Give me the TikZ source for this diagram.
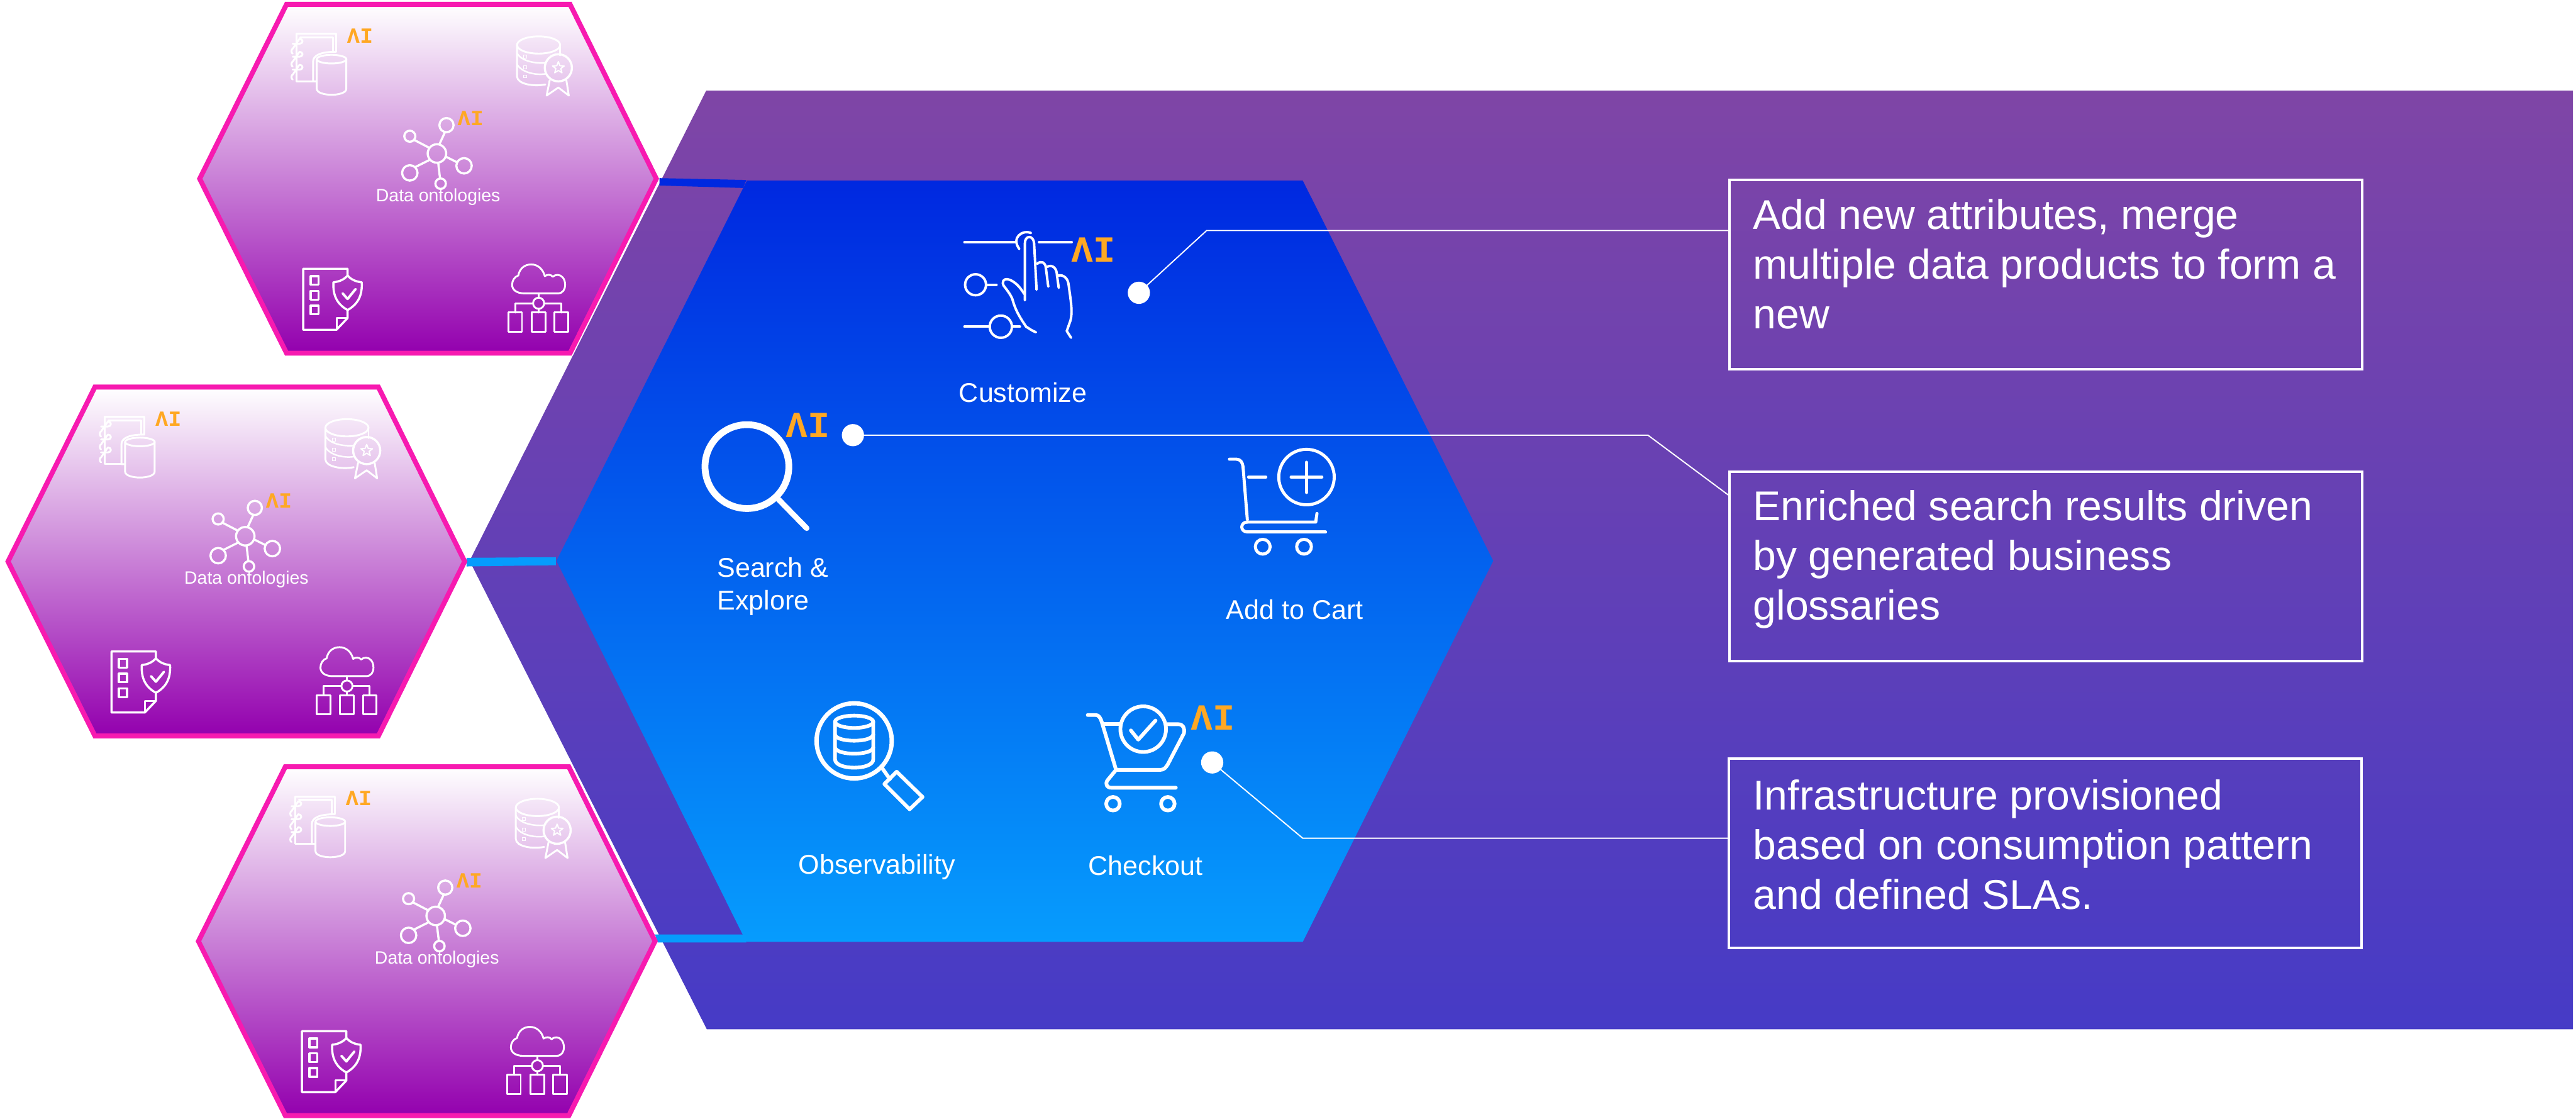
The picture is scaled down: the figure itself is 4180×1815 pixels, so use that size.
\documentclass[tikz,border=0pt]{standalone}
\usepackage{fontspec}
\setmainfont{Liberation Sans}
\newfontfamily\aimono{Liberation Mono}[BoldFont={Liberation Mono Bold}]
\usetikzlibrary{calc}
\definecolor{pinkline}{HTML}{F71AB0}
\definecolor{hexbot}{HTML}{9300AE}
\definecolor{purptop}{HTML}{7F45A6}
\definecolor{purpbot}{HTML}{463BC6}
\definecolor{bluetop}{HTML}{0028E0}
\definecolor{bluebot}{HTML}{069CFD}
\definecolor{aiorange}{HTML}{FFA823}
\tikzset{
  lw/.style={line width=#1*0.2845pt},
  icon/.style={draw=white,lw=#1,line cap=round,line join=round},
  icon/.default=3.5,
  hexshape/.style={draw=pinkline,lw=8,miter limit=10,top color=white,bottom color=hexbot},
  aibig/.style={text=aiorange,inner sep=0pt,font=\aimono\bfseries\fontsize{17}{17}\selectfont},
  aismall/.style={text=aiorange,inner sep=0pt,font=\aimono\bfseries\fontsize{10}{10}\selectfont},
  lab/.style={text=white,inner sep=0pt,anchor=base,align=center,font=\fontsize{12.5}{15}\selectfont},
  hexlab/.style={text=white,inner sep=0pt,anchor=base,font=\fontsize{8.25}{10}\selectfont},
  calloutbox/.style={draw=white,lw=4,fill=none,inner sep=0pt,minimum width=1026*0.2845pt,minimum height=307*0.2845pt},
  callouttext/.style={text=white,inner sep=0pt,anchor=base west,align=left,font=\fontsize{19.2}{22.9}\selectfont},
  dotnode/.style={circle,fill=white,inner sep=0pt,minimum size=36*0.2845pt},
  leader/.style={draw=white,lw=2},
  hexcontent/.pic={
    % notebook + cylinder
    \draw[icon=3] (508,132) -- (481,132) -- (481,55) -- (545,55) -- (545,84);
    \draw[icon=3] (487,61) -- (540,61) -- (540,84);
    \draw[icon=3] (514,132) -- (508,132) -- (508,100) .. controls (508,90) and (520,84) .. (545,84);
    \foreach \ry in {75,96,117}{
      \draw[icon=3] (475,\ry-4) -- (486,\ry-4) arc[start angle=90,end angle=-90,x radius=5,y radius=4] -- (475,\ry+4) arc[start angle=270,end angle=90,x radius=2,y radius=4];
    }
    \draw[icon=3] (538,96) ellipse [x radius=24,y radius=7];
    \draw[icon=3] (514,96) -- (514,144) .. controls (514,157) and (562,157) .. (562,144) -- (562,96);
    \node[aismall] (aione) at (584,58.5) {ΛI};
    % database + badge
    \draw[icon=3] (874,73) ellipse [x radius=35,y radius=14];
    \draw[icon=3] (839,73) -- (839,124) .. controls (839,136) and (865,141) .. (885,137);
    \draw[icon=3] (909,73) -- (909,90);
    \draw[icon=2.5] (839,86) .. controls (846,100) and (870,103) .. (884,102);
    \draw[icon=2.5] (839,104) .. controls (846,118) and (870,122) .. (884,120);
    \foreach \ry in {92,109,124}{\draw[icon=1] (850,\ry-2.5) rectangle (855,\ry+2.5);}
    \draw[icon=3.5] (906,110) circle [radius=22];
    \draw[icon=2] (906,100) -- (908.5,106.6) -- (915.5,107) -- (910,111.3) -- (911.9,118.1) -- (906,114.2) -- (900.1,118.1) -- (902,111.3) -- (896.5,107) -- (903.5,106.6) -- cycle;
    \draw[icon=3] (892,130) -- (887,155) -- (906,142) -- (923,155) -- (919,130);
    % network
    \draw[icon=3.5] (709,249) circle [radius=15];
    \draw[icon=3.5] (724.5,203) circle [radius=11.5];
    \draw[icon=3.5] (665,221) circle [radius=9];
    \draw[icon=3.5] (753,269) circle [radius=12.5];
    \draw[icon=3.5] (665,280.5) circle [radius=12.5];
    \draw[icon=3.5] (715,298) circle [radius=8.5];
    \draw[icon=3.5] (713,234) -- (722,214.5);
    \draw[icon=3.5] (697,240) -- (672,227);
    \draw[icon=3.5] (723,254) -- (741,263);
    \draw[icon=3.5] (698,259) -- (674,271);
    \draw[icon=3.5] (711,264) -- (714,289);
    \node[aismall] (aitwo) at (763.5,191.5) {ΛI};
    \node[hexlab] (lab) at (711,327) {Data ontologies};
    % document + shield
    \draw[icon=3.5] (564,447) -- (564,436) -- (492,436) -- (492,535) -- (546,535) -- (564,516) -- (564,503);
    \draw[icon=3] (546,535) -- (546,516) -- (564,516);
    \foreach \ry in {455,479,503}{\draw[icon=3.5] (504,\ry-7) rectangle (517,\ry+7);}
    \draw[icon=3.5] (564,447) .. controls (570,454) and (578,457) .. (587,458) .. controls (588,478) and (582,493) .. (564,503) .. controls (546,493) and (540,478) .. (541,458) .. controls (550,457) and (558,454) .. (564,447) -- cycle;
    \draw[icon=4] (556,476) -- (564,485) -- (577,469);
    % cloud + hierarchy
    \draw[icon=3] (851,476) -- (905,476) .. controls (913,476) and (917,470) .. (917,462) .. controls (917,452) and (911,446) .. (905,446) .. controls (902,446) and (899,447) .. (897,449) .. controls (894,445) and (888,445) .. (884,448) .. controls (881,436) and (872,429) .. (862,429) .. controls (851,429) and (843,436) .. (841,447) .. controls (835,449) and (831,455) .. (831,462) .. controls (831,470) and (838,476) .. (851,476) -- cycle;
    \draw[icon=3] (874,476) -- (874,483);
    \draw[icon=3] (874,492) circle [radius=9];
    \draw[icon=3] (865,492) -- (836,492) -- (836,507);
    \draw[icon=3] (883,492) -- (911,492) -- (911,507);
    \draw[icon=3] (874,501) -- (874,507);
    \draw[icon=3] (825,507) rectangle (847,538);
    \draw[icon=3] (863,507) rectangle (885,538);
    \draw[icon=3] (900,507) rectangle (922,538);
  }
}
\begin{document}
\begin{tikzpicture}[x=0.01cm,y=-0.01cm]
\useasboundingbox (0,0) rectangle (4180,1815);
% purple backdrop
\shade[top color=purptop,bottom color=purpbot] (1146,147) -- (4175,147) -- (4175,1670) -- (1147,1670) -- (762,910) -- cycle;
% blue hexagon
\shade[top color=bluetop,bottom color=bluebot] (1212,293) -- (2114,293) -- (2423,910) -- (2114,1528) -- (1211,1528) -- (903,910) -- cycle;
% connecting bands
\fill[bluetop] (1070,289) -- (1211,292) -- (1206,305) -- (1070,301) -- cycle;
\fill[bluebot] (757,905) -- (902,904) -- (902,917) -- (757,919) -- cycle;
\fill[bluebot] (1063,1516) -- (1211,1516) -- (1211,1529) -- (1067,1529) -- cycle;
% pink hexagons
\foreach \hn/\dx/\dy in {a/0/0,b/-311/621,c/-2/1237}{
  \begin{scope}[shift={(\dx,\dy)}]
    \draw[hexshape] (465,7) -- (925,7) -- (1065,290) -- (925,573) -- (465,573) -- (324,290) -- cycle;
    \pic (\hn) at (0,0) {hexcontent};
  \end{scope}
}
% customize icon
\draw[icon=4] (1565,393) -- (1647,393);
\draw[icon=4] (1673,378) .. controls (1660,372) and (1640,385) .. (1654,404);
\draw[icon=4] (1686,393) -- (1739,393);
\draw[icon=4] (1583,462) circle [radius=17];
\draw[icon=4] (1601,462) -- (1617,462);
\draw[icon=4] (1565,530) -- (1606,530);
\draw[icon=4] (1624,530) circle [radius=18];
\draw[icon=4] (1643,530) -- (1655,530);
\draw[icon=4] (1663,487) -- (1663,395) .. controls (1663,381) and (1677,381) .. (1678,395) -- (1682,470);
\draw[icon=4] (1683,428) .. controls (1690,422) and (1696,426) .. (1697,434) -- (1701,465);
\draw[icon=4] (1699,433) .. controls (1708,428) and (1715,436) .. (1715,446) -- (1718,467);
\draw[icon=4] (1717,447) .. controls (1726,445) and (1733,452) .. (1734,462) .. controls (1737,485) and (1741,505) .. (1737,520) -- (1731,537) -- (1738,548);
\draw[icon=4] (1662,477) .. controls (1655,465) and (1645,455) .. (1635,453) .. controls (1628,452) and (1625,458) .. (1629,464) .. controls (1635,472) and (1640,478) .. (1643,486) .. controls (1648,505) and (1657,518) .. (1665,530) .. controls (1670,533) and (1675,537) .. (1681,539);
\node[aibig] (aicust) at (1774.5,405) {ΛI};
\node[lab] (custlab) at (1660,653) {Customize};
% search icon
\draw[icon=11] (1212,757) circle [radius=68];
\draw[icon=9] (1263,810) -- (1309,857);
\node[aibig] (aisearch) at (1310.5,690) {ΛI};
\node[lab,anchor=base west,align=left] (searchlab) at (1163,989) {Search \&\\Explore};
% add to cart icon
\draw[icon=5] (2120,774) circle [radius=45];
\draw[icon=5] (2095,774) -- (2145,774);
\draw[icon=5] (2120,750) -- (2120,799);
\draw[icon=5] (1995,745) -- (2006,745) .. controls (2013,745) and (2016,750) .. (2017,757) -- (2024,843);
\draw[icon=5] (2026,774) -- (2054,774);
\draw[icon=5] (2024,847) -- (2135,847) -- (2137,833);
\draw[icon=5] (2024,847) .. controls (2012,847) and (2012,863) .. (2024,863) -- (2151,863);
\draw[icon=5] (2049,887) circle [radius=12];
\draw[icon=5] (2116,887) circle [radius=12];
\node[lab] (cartlab) at (2101,1005) {Add to Cart};
% observability icon
\draw[icon=7] (1386,1202) circle [radius=61];
\draw[icon=6] (1386,1171) ellipse [x radius=31,y radius=10];
\draw[icon=6] (1355,1171) -- (1355,1232) .. controls (1355,1250) and (1417,1250) .. (1417,1232) -- (1417,1171);
\draw[icon=6] (1355,1192) .. controls (1358,1205) and (1414,1205) .. (1417,1192);
\draw[icon=6] (1355,1213) .. controls (1358,1226) and (1414,1226) .. (1417,1213);
\draw[icon=6] (1432,1247) -- (1444,1264);
\draw[icon=6] (1455,1252) -- (1497,1293) -- (1476,1313) -- (1435,1272) -- cycle;
\node[lab] (obslab) at (1423,1418) {Observability};
% checkout icon
\draw[icon=6] (1855,1183) circle [radius=37];
\draw[icon=6] (1835,1185) -- (1847,1200) -- (1875,1169);
\draw[icon=6] (1765,1160) -- (1778,1160) .. controls (1783,1160) and (1786,1165) .. (1788,1172) -- (1811,1249) -- (1883,1249) .. controls (1889,1249) and (1892,1245) .. (1895,1240) -- (1921,1190) .. controls (1923,1182) and (1920,1175) .. (1912,1175) -- (1894,1175);
\draw[icon=6] (1790,1175) -- (1816,1175);
\draw[icon=6] (1811,1249) -- (1797,1266) .. controls (1793,1272) and (1796,1278) .. (1803,1278) -- (1908,1278);
\draw[icon=6] (1806,1304) circle [radius=11];
\draw[icon=6] (1895,1304) circle [radius=11];
\node[aibig] (aicheck) at (1968.5,1165) {ΛI};
\node[lab] (checklab) at (1859,1420) {Checkout};
% callouts
\node[calloutbox] (box1) at (3320,445.5) {};
\node[calloutbox] (box2) at (3320,918.5) {};
\node[calloutbox] (box3) at (3319,1384) {};
\node[callouttext] (text1) at (2844,533.5) {Add new attributes, merge\\multiple data products to form a\\new};
\node[callouttext] (text2) at (2844,1006) {Enriched search results driven\\by generated business\\glossaries};
\node[callouttext] (text3) at (2844,1475) {Infrastructure provisioned\\based on consumption pattern\\and defined SLAs.};
\node[dotnode] (d1) at (1848,475) {};
\node[dotnode] (d2) at (1384,706) {};
\node[dotnode] (d3) at (1967,1237) {};
\coordinate (b1) at (1958,374);
\coordinate (b2) at (2674,706);
\coordinate (b2e) at (2807,805);
\coordinate (b3) at (2114,1360);
\draw[leader] (d1.center) -- (b1) -- (b1 -| box1.west);
\draw[leader] (d2.center) -- (b2) -- (b2e);
\draw[leader] (d3.center) -- (b3) -- (b3 -| box3.west);
\end{tikzpicture}
\end{document}
